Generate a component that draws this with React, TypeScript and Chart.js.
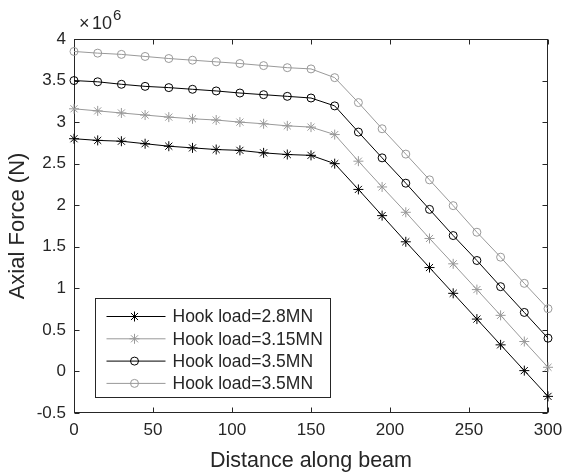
import React, { useEffect, useRef } from 'react';
import { Chart, registerables } from 'chart.js';

Chart.register(...registerables);

// Distance along beam (x)
const distances = [0, 15, 30, 45, 60, 75, 90, 105, 120, 135, 150, 165, 180, 195, 210, 225, 240, 255, 270, 285, 300];

// Axial force values in units of 10^6 N
const load28 = [2.80, 2.78, 2.77, 2.74, 2.71, 2.69, 2.67, 2.66, 2.63, 2.61, 2.60, 2.50, 2.19, 1.875, 1.56, 1.25, 0.94, 0.63, 0.32, 0.01, -0.30];
const load315 = [3.16, 3.135, 3.11, 3.085, 3.06, 3.04, 3.025, 3.00, 2.98, 2.955, 2.94, 2.85, 2.53, 2.22, 1.915, 1.60, 1.295, 0.985, 0.675, 0.36, 0.05];
const load35 = [3.50, 3.485, 3.455, 3.43, 3.415, 3.395, 3.375, 3.35, 3.33, 3.31, 3.29, 3.195, 2.88, 2.57, 2.265, 1.95, 1.635, 1.335, 1.02, 0.71, 0.40];
const load385 = [3.85, 3.83, 3.815, 3.79, 3.765, 3.745, 3.725, 3.705, 3.68, 3.655, 3.64, 3.535, 3.235, 2.92, 2.615, 2.305, 1.995, 1.675, 1.375, 1.06, 0.755];

const seriesLabels = ['Hook load=2.8MN', 'Hook load=3.15MN', 'Hook load=3.5MN', 'Hook load=3.5MN'];
const seriesValues = [load28, load315, load35, load385];
const seriesColors = ['#000000', '#999999', '#000000', '#999999'];
const seriesMarkers = ['star', 'star', 'circle', 'circle'];

const xTicks = [0, 50, 100, 150, 200, 250, 300];
const yTicks = [-0.5, 0, 0.5, 1, 1.5, 2, 2.5, 3, 3.5, 4];
const SCALE = 1e6;

const FONT = 'Liberation Sans, Arial, Helvetica, sans-serif';
const AXIS_COLOR = '#262626';

const boxPlugin = {
  id: 'matlabBox',
  beforeDatasetsDraw(chart: any) {
    const { ctx, chartArea: a, scales } = chart;
    const L = Math.round(a.left) + 0.5;
    const R = Math.round(a.right) - 0.5;
    const T = Math.round(a.top) + 0.5;
    const B = Math.round(a.bottom) - 0.5;
    ctx.save();
    ctx.strokeStyle = AXIS_COLOR;
    ctx.lineWidth = 1;
    ctx.strokeRect(L, T, R - L, B - T);
    const tl = 5;
    ctx.beginPath();
    for (const v of xTicks) {
      const px = Math.round(scales.x.getPixelForValue(v)) + 0.5;
      ctx.moveTo(px, B);
      ctx.lineTo(px, B - tl);
      ctx.moveTo(px, T);
      ctx.lineTo(px, T + tl);
    }
    for (const v of yTicks) {
      const py = Math.round(scales.y.getPixelForValue(v * SCALE)) + 0.5;
      ctx.moveTo(L, py);
      ctx.lineTo(L + tl, py);
      ctx.moveTo(R, py);
      ctx.lineTo(R - tl, py);
    }
    ctx.stroke();
    // exponent label
    ctx.fillStyle = AXIS_COLOR;
    ctx.textBaseline = 'middle';
    ctx.textAlign = 'left';
    ctx.font = `18px ${FONT}`;
    ctx.fillText('\u00d7', a.left + 5, a.top - 15);
    ctx.fillText('10', a.left + 18, a.top - 15);
    const w = ctx.measureText('10').width;
    ctx.font = `15px ${FONT}`;
    ctx.fillText('6', a.left + 18 + w + 1, a.top - 23);
    ctx.restore();
  },
};

function drawMarker(ctx: CanvasRenderingContext2D, style: string, x: number, y: number, r: number) {
  ctx.beginPath();
  if (style === 'star') {
    ctx.moveTo(x - r, y);
    ctx.lineTo(x + r, y);
    ctx.moveTo(x, y - r);
    ctx.lineTo(x, y + r);
    const d = r * Math.SQRT1_2;
    ctx.moveTo(x - d, y - d);
    ctx.lineTo(x + d, y + d);
    ctx.moveTo(x - d, y + d);
    ctx.lineTo(x + d, y - d);
  } else {
    ctx.arc(x, y, r, 0, Math.PI * 2);
  }
  ctx.stroke();
}

const legendPlugin = {
  id: 'matlabLegend',
  afterDraw(chart: any) {
    const { ctx, chartArea: a } = chart;
    const bx = Math.round(a.left + 21) + 0.5;
    const by = Math.round(a.bottom - 115) + 0.5;
    const bw = 235;
    const bh = 99;
    ctx.save();
    ctx.fillStyle = '#ffffff';
    ctx.fillRect(bx, by, bw, bh);
    ctx.strokeStyle = AXIS_COLOR;
    ctx.lineWidth = 1;
    ctx.strokeRect(bx, by, bw, bh);
    ctx.font = `17.5px ${FONT}`;
    ctx.textBaseline = 'middle';
    ctx.textAlign = 'left';
    chart.data.datasets.forEach((ds: any, i: number) => {
      const cy = by + 18 + i * 22.3;
      ctx.strokeStyle = ds.borderColor;
      ctx.lineWidth = 1;
      ctx.beginPath();
      ctx.moveTo(bx + 11, cy);
      ctx.lineTo(bx + 70, cy);
      ctx.stroke();
      drawMarker(ctx, ds.pointStyle, bx + 39, cy, ds.pointRadius);
      ctx.fillStyle = AXIS_COLOR;
      ctx.fillText(ds.label, bx + 77, cy + 1);
    });
    ctx.restore();
  },
};

export default function App() {
  const ref = useRef<HTMLCanvasElement>(null);
  useEffect(() => {
    if (!ref.current) return;
    const datasets = seriesValues.map((vals, i) => ({
      label: seriesLabels[i],
      data: distances.map((d, j) => ({ x: d, y: vals[j] * SCALE })),
      borderColor: seriesColors[i],
      backgroundColor: 'rgba(0,0,0,0)',
      pointBorderColor: seriesColors[i],
      pointBackgroundColor: 'rgba(0,0,0,0)',
      pointStyle: seriesMarkers[i],
      pointRadius: seriesMarkers[i] === 'star' ? 5 : 4,
      pointBorderWidth: 1,
      borderWidth: 1,
      tension: 0,
      fill: false,
      clip: false,
      showLine: true,
    }));
    const chart = new Chart(ref.current, {
      type: 'line',
      data: { datasets },
      options: {
        animation: false,
        responsive: false,
        maintainAspectRatio: false,
        layout: { padding: { left: 0, top: 39, right: 16, bottom: 0 } },
        plugins: { legend: { display: false }, tooltip: { enabled: false }, title: { display: false } },
        scales: {
          x: {
            type: 'linear',
            min: 0,
            max: 300,
            grid: { display: false, drawTicks: false },
            border: { display: false },
            ticks: {
              stepSize: 50,
              maxRotation: 0,
              padding: 7,
              color: AXIS_COLOR,
              font: { family: FONT, size: 17 },
            },
            title: {
              display: true,
              text: 'Distance along beam',
              color: AXIS_COLOR,
              font: { family: FONT, size: 21.5 },
              padding: { top: 4, bottom: 1 },
            },
            afterFit: (s: any) => {
              s.height = 62;
              s.paddingLeft = 0;
              s.paddingRight = 0;
            },
          },
          y: {
            type: 'linear',
            min: -0.5 * SCALE,
            max: 4 * SCALE,
            grid: { display: false, drawTicks: false },
            border: { display: false },
            ticks: {
              stepSize: 0.5 * SCALE,
              padding: 8,
              color: AXIS_COLOR,
              font: { family: FONT, size: 17 },
              callback: (v: any) => String(Math.round((v / SCALE) * 10) / 10),
            },
            title: {
              display: true,
              text: 'Axial Force (N)',
              color: AXIS_COLOR,
              font: { family: FONT, size: 22 },
              padding: { top: 5, bottom: 4 },
            },
            afterFit: (s: any) => {
              s.width = 74;
              s.paddingTop = 0;
              s.paddingBottom = 0;
            },
          },
        },
      },
      plugins: [boxPlugin, legendPlugin],
    } as any);
    return () => chart.destroy();
  }, []);
  return (
    <div style={{ position: 'absolute', left: 0, top: 0, width: 564, height: 475, background: '#fff' }}>
      <canvas ref={ref} width={564} height={475} style={{ display: 'block' }} />
    </div>
  );
}
